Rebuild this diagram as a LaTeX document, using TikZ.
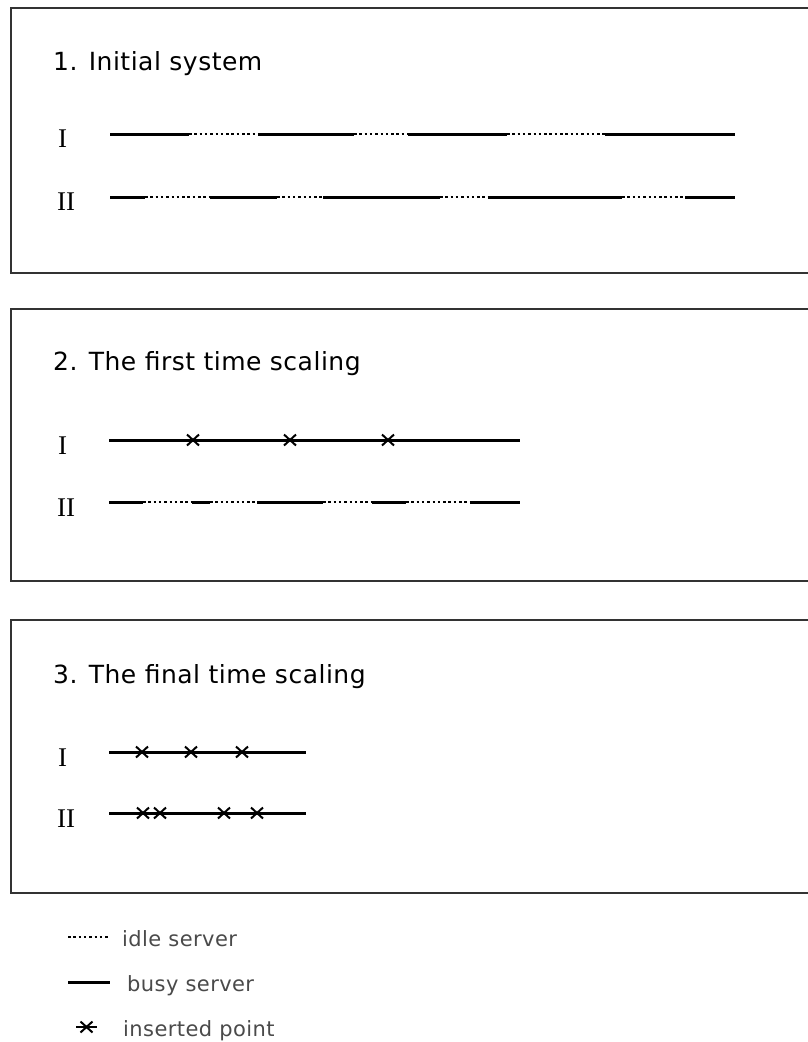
\documentclass[tikz,border=0pt]{standalone}
\usepackage{fontspec}
\setmainfont{Liberation Serif}
\newfontfamily\labelfont[LetterSpace=2]{DejaVu Sans}
\usetikzlibrary{positioning}
\definecolor{FrameInk}{HTML}{333333}
\definecolor{LegendInk}{HTML}{4A4A4A}
\newcommand{\InsertX}[1]{\draw[crossmark] (#1) ++(-6,-5.5) -- ++(12,11) ++(-12,0) -- ++(12,-11);}
\tikzset{
  chart/.style={x=1pt,y=-1pt},
  frame/.style={draw=FrameInk,line width=1.1pt},
  heading/.style={anchor=base west,inner sep=0pt,font=\labelfont\fontsize{25}{29}\selectfont},
  servername/.style={anchor=base west,inner sep=0pt,font=\fontsize{27}{31}\selectfont},
  busy/.style={line width=3pt},
  idle/.style={line width=2.8pt,dash pattern=on 2.5pt off 2.8pt},
  crossmark/.style={line width=2pt},
  legendtext/.style={anchor=base west,inner sep=0pt,text=LegendInk,font=\labelfont\fontsize{21}{24}\selectfont},
}

\begin{document}
\begin{tikzpicture}[chart]
  \useasboundingbox (0,0) rectangle (807,1042);

  % 1. initial system
  \draw[frame] (11,8) rectangle (830,273);
  \node[heading] (title1) at (53,70) {1. Initial system};
  \node[servername] (initI) at (58,147) {I};
  \node[servername] (initII) at (57,210) {II};
  \foreach \a/\b/\s in {110/189/busy,189/258/idle,258/354/busy,354/408/idle,
                        408/507/busy,507/605/idle,605/735/busy}
    \draw[\s] (\a,134) -- (\b,134);
  \foreach \a/\b/\s in {110/145/busy,145/210/idle,210/277/busy,277/323/idle,
                        323/440/busy,440/488/idle,488/622/busy,622/685/idle,685/735/busy}
    \draw[\s] (\a,197) -- (\b,197);

  % 2. first time scaling
  \draw[frame] (11,309) rectangle (830,581);
  \node[heading] (title2) at (53,370) {2. The first time scaling};
  \node[servername] (firstI) at (58,454) {I};
  \node[servername] (firstII) at (57,516) {II};
  \draw[busy] (109,440) -- (520,440);
  \foreach \x in {193,290,388} {\InsertX{\x,440}}
  \foreach \a/\b/\s in {109/143/busy,143/192/idle,192/210/busy,210/257/idle,257/323/busy,
                        323/372/idle,372/406/busy,406/470/idle,470/520/busy}
    \draw[\s] (\a,502) -- (\b,502);

  % 3. final time scaling
  \draw[frame] (11,620) rectangle (830,893);
  \node[heading] (title3) at (53,683) {3. The final time scaling};
  \node[servername] (finalI) at (58,766) {I};
  \node[servername] (finalII) at (57,827) {II};
  \draw[busy] (109,752) -- (306,752);
  \foreach \x in {142,191,242} {\InsertX{\x,752}}
  \draw[busy] (109,813) -- (306,813);
  \foreach \x in {143,160,224,257} {\InsertX{\x,813}}

  % legend
  \draw[idle] (68,937) -- (108,937);
  \node[legendtext] (idlekey) at (122,946) {idle server};
  \draw[busy] (68,982) -- (110,982);
  \node[legendtext] (busykey) at (127,991) {busy server};
  \draw[line width=1.6pt] (76,1027) -- (97,1027);
  \InsertX{86.5,1027}
  \node[legendtext] (pointkey) at (123,1036) {inserted point};
\end{tikzpicture}
\end{document}
